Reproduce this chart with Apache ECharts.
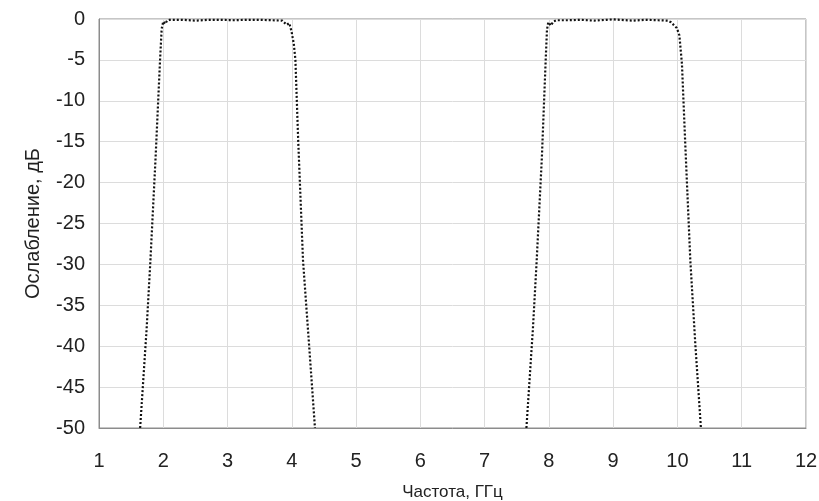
<!DOCTYPE html>
<html>
<head>
<meta charset="utf-8">
<script src="https://cdn.jsdelivr.net/npm/echarts@6/dist/echarts.min.js"></script>
<style>html,body{margin:0;padding:0;background:#fff}#c{width:819px;height:501px}</style>
</head>
<body>
<div id="c"></div>
<script>
// Frequency (GHz) and attenuation (dB)
const band1Freq = [1.64, 1.74, 1.80, 1.88, 1.95, 1.975, 2.00, 2.03, 2.06, 2.10, 2.30, 2.50, 2.70, 2.90, 3.10, 3.30, 3.50, 3.70, 3.85, 3.92, 3.96, 3.995, 4.03, 4.056, 4.10, 4.174, 4.27, 4.36];
const band1Att  = [-50, -38, -29.5, -17, -5, -1.2, -0.3, -0.6, -0.2, -0.1, -0.1, -0.2, -0.1, -0.1, -0.15, -0.1, -0.1, -0.15, -0.2, -0.7, -0.5, -1.5, -3, -5, -15, -29.5, -40, -50];
const band2Freq = [7.65, 7.75, 7.81, 7.89, 7.95, 7.97, 7.99, 8.03, 8.07, 8.12, 8.30, 8.50, 8.70, 8.90, 9.00, 9.10, 9.30, 9.50, 9.70, 9.85, 9.90, 9.95, 9.99, 10.03, 10.07, 10.12, 10.20, 10.28, 10.365];
const band2Att  = [-50, -38, -29.5, -17, -5, -1.3, -0.4, -0.8, -0.3, -0.15, -0.15, -0.1, -0.2, -0.1, -0.05, -0.1, -0.2, -0.1, -0.15, -0.2, -0.4, -0.8, -1.1, -2, -5.5, -15, -29.5, -40, -50];
const xTicks = [1, 12, 1];   // min, max, interval
const yTicks = [-50, 0, 5];  // min, max, interval
const xTitle = 'Частота, ГГц';
const yTitle = 'Ослабление, дБ';

const pairs = (xs, ys) => xs.map((x, i) => [x, ys[i]]);
const lineData = pairs(band1Freq, band1Att).concat([[5.5, null]], pairs(band2Freq, band2Att));

const chart = echarts.init(document.getElementById('c'), null, {renderer: 'canvas'});
chart.setOption({
  animation: false,
  backgroundColor: '#ffffff',
  grid: {left: 99, top: 19, right: 13, bottom: 73, containLabel: false, outerBoundsMode: 'none',
         show: true, borderColor: '#8c8c8c', borderWidth: 1, backgroundColor: 'transparent'},
  xAxis: {
    type: 'value', min: xTicks[0], max: xTicks[1], interval: xTicks[2],
    name: xTitle, nameLocation: 'middle', nameGap: 56,
    nameTextStyle: {fontFamily: 'Liberation Sans Narrow, Liberation Sans, Arial', fontSize: 17, color: '#222'},
    axisLine: {show: true, onZero: false, lineStyle: {color: '#8c8c8c', width: 1}},
    axisTick: {show: false},
    axisLabel: {margin: 23, fontFamily: 'Liberation Sans, Arial', fontSize: 20, color: '#222'},
    splitLine: {show: true, lineStyle: {color: '#dcdcdc', width: 1}}
  },
  yAxis: {
    type: 'value', min: yTicks[0], max: yTicks[1], interval: yTicks[2],
    name: yTitle, nameLocation: 'middle', nameGap: 56, nameRotate: 90,
    nameTextStyle: {fontFamily: 'Liberation Sans Narrow, Liberation Sans, Arial', fontSize: 20, color: '#222'},
    axisLine: {show: true, onZero: false, lineStyle: {color: '#8c8c8c', width: 1}},
    axisTick: {show: false},
    axisLabel: {margin: 14, fontFamily: 'Liberation Sans, Arial', fontSize: 20, color: '#222'},
    splitLine: {show: true, lineStyle: {color: '#dcdcdc', width: 1}}
  },
  series: [{
    type: 'line', data: lineData, showSymbol: false, connectNulls: false, clip: true,
    lineStyle: {color: '#111', width: 2.2, type: [2, 2], cap: 'butt'}
  }]
});
</script>
</body>
</html>
